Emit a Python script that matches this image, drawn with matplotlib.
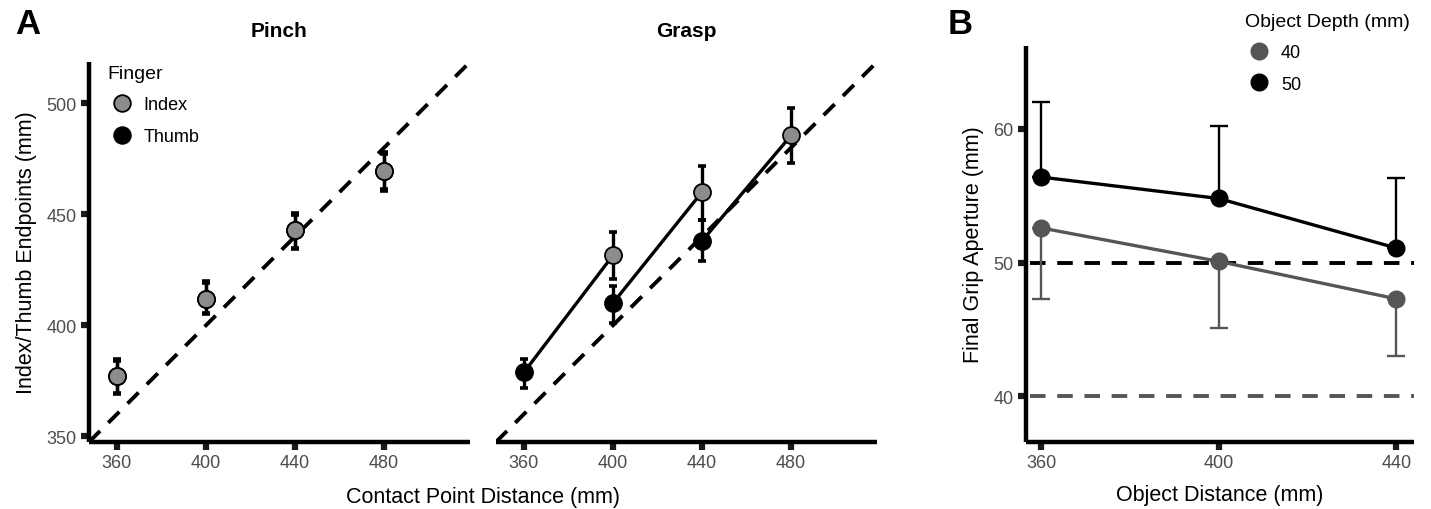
import numpy as np
import matplotlib
matplotlib.use("Agg")
from matplotlib import pyplot as plt
from matplotlib.lines import Line2D

plt.rcParams['font.family'] = ['Liberation Sans', 'DejaVu Sans']

# panel A data (contact point distance, endpoints in mm)
pinch_x = [360, 400, 440, 480]
pinch_index = [377, 412, 443, 469.5]
pinch_index_lo = [369.5, 405.5, 435, 460.5]
pinch_index_hi = [385, 420, 450.5, 478]
pinch_thumb = [377, 412, 443, 469.5]
pinch_thumb_lo = [369, 405, 434.5, 461.5]
pinch_thumb_hi = [384, 419, 449.5, 477]

grasp_thumb_x = [360, 400, 440]
grasp_thumb = [378.8, 410, 438]
grasp_thumb_lo = [372, 401, 429]
grasp_thumb_hi = [385, 417.5, 447.5]
grasp_index_x = [400, 440, 480]
grasp_index = [431.5, 460, 485.5]
grasp_index_lo = [421, 447.5, 473]
grasp_index_hi = [442, 471.5, 498]

# panel B data (final grip aperture)
obj_dist = [360, 400, 440]
fga_40 = [52.6, 50.1, 47.3]
fga_40_lo = [47.3, 45.1, 43.0]
fga_50 = [56.4, 54.8, 51.1]
fga_50_hi = [62.0, 60.2, 56.3]

GREY_IDX = '#8c8c8c'
GREY_40 = '#555555'
TICKCOL = '#4d4d4d'
lims = (347.5, 518.5)

fig = plt.figure(figsize=(14.31, 5.10), dpi=100)
ax1 = fig.add_axes([0.0622, 0.1314, 0.2662, 0.745])
ax2 = fig.add_axes([0.3466, 0.1314, 0.2662, 0.745])
ax3 = fig.add_axes([0.717, 0.1314, 0.2711, 0.7765])


def style(ax):
    for s in ['top', 'right']:
        ax.spines[s].set_visible(False)
    for s in ['left', 'bottom']:
        ax.spines[s].set_linewidth(3.2)
        ax.spines[s].set_capstyle('butt')
    ax.tick_params(width=4.5, length=6, labelsize=13, labelcolor=TICKCOL,
                   color='#1a1a1a', pad=3)


dash = (0, (4, 3))


def errs(y, lo, hi):
    y = np.asarray(y)
    return [y - np.asarray(lo), np.asarray(hi) - y]


for ax in (ax1, ax2):
    style(ax)
    ax.set_xlim(lims)
    ax.set_ylim(lims)
    ax.set_xticks([360, 400, 440, 480])
    ax.set_yticks([350, 400, 450, 500])
    ax.plot(lims, lims, color='black', lw=2.8, ls=dash, zorder=1)

ax2.spines['left'].set_visible(False)
ax2.tick_params(axis='y', left=False, labelleft=False)

eb_kw = dict(fmt='none', ecolor='black', elinewidth=2.4, capsize=2.7,
             capthick=2.6, zorder=3)
mk_kw = dict(s=150, edgecolors='black', linewidths=1.3, zorder=4)

# pinch
ax1.errorbar(pinch_x, pinch_thumb, yerr=errs(pinch_thumb, pinch_thumb_lo, pinch_thumb_hi), **eb_kw)
ax1.errorbar(pinch_x, pinch_index, yerr=errs(pinch_index, pinch_index_lo, pinch_index_hi), **eb_kw)
ax1.scatter(pinch_x, pinch_thumb, c='black', **mk_kw)
ax1.scatter(pinch_x, pinch_index, c=GREY_IDX, **mk_kw)

# grasp
for tx, ty, ix, iy in zip(grasp_thumb_x, grasp_thumb, grasp_index_x, grasp_index):
    ax2.plot([tx, ix], [ty, iy], color='black', lw=2.4, zorder=2)
ax2.errorbar(grasp_thumb_x, grasp_thumb, yerr=errs(grasp_thumb, grasp_thumb_lo, grasp_thumb_hi), **eb_kw)
ax2.errorbar(grasp_index_x, grasp_index, yerr=errs(grasp_index, grasp_index_lo, grasp_index_hi), **eb_kw)
ax2.scatter(grasp_thumb_x, grasp_thumb, c='black', **mk_kw)
ax2.scatter(grasp_index_x, grasp_index, c=GREY_IDX, **mk_kw)

ax1.set_title('Pinch', fontsize=15, fontweight='bold', pad=19)
ax2.set_title('Grasp', fontsize=15, fontweight='bold', pad=19)
ax1.set_ylabel('Index/Thumb Endpoints (mm)', fontsize=15.5, labelpad=7)
fig.text(0.3375, 0.025, 'Contact Point Distance (mm)', fontsize=15.5, ha='center', va='center')

h_a = [Line2D([], [], ls='none', marker='o', ms=12, mfc=GREY_IDX, mec='black', mew=1.3),
       Line2D([], [], ls='none', marker='o', ms=12, mfc='black', mec='black', mew=1.3)]
leg1 = ax1.legend(h_a, ['Index', 'Thumb'], title='Finger', loc='upper left',
                  bbox_to_anchor=(0.005, 1.035), frameon=False, fontsize=13,
                  title_fontsize=14, handletextpad=0.4, labelspacing=0.8,
                  handlelength=1.6, alignment='left')

# panel B
style(ax3)
ax3.set_xlim(356.6, 444)
ax3.set_ylim(36.6, 66.2)
ax3.set_xticks(obj_dist)
ax3.set_yticks([40, 50, 60])
ax3.axhline(50, xmin=0.01, color='black', lw=2.8, ls=dash, zorder=1)
ax3.axhline(40, xmin=0.01, color=GREY_40, lw=2.8, ls=dash, zorder=1)
ax3.errorbar(obj_dist, fga_40, yerr=[np.subtract(fga_40, fga_40_lo), np.zeros(3)],
             fmt='none', ecolor=GREY_40, elinewidth=1.7, capsize=6.5, capthick=1.7, zorder=2)
ax3.errorbar(obj_dist, fga_50, yerr=[np.zeros(3), np.subtract(fga_50_hi, fga_50)],
             fmt='none', ecolor='black', elinewidth=1.7, capsize=6.5, capthick=1.7, zorder=2)
ax3.plot(obj_dist, fga_40, color=GREY_40, lw=2.4, marker='o', ms=12, zorder=3)
ax3.plot(obj_dist, fga_50, color='black', lw=2.4, marker='o', ms=12, zorder=3)
ax3.set_ylabel('Final Grip Aperture (mm)', fontsize=15.5, labelpad=7)
ax3.set_xlabel('Object Distance (mm)', fontsize=15.5, labelpad=9)

h_b = [Line2D([], [], ls='none', marker='o', ms=12, color=GREY_40),
       Line2D([], [], ls='none', marker='o', ms=12, color='black')]
ax3.legend(h_b, ['40', '50'], title='Object Depth (mm)', loc='upper left',
           bbox_to_anchor=(0.522, 1.125), frameon=False, fontsize=13,
           title_fontsize=14, handletextpad=0.4, labelspacing=0.8,
           handlelength=1.6, alignment='left')

fig.text(0.0196, 0.952, 'A', fontsize=25, fontweight='bold', ha='center', va='center')
fig.text(0.671, 0.952, 'B', fontsize=25, fontweight='bold', ha='center', va='center')

fig.savefig('out.png', dpi=100)
